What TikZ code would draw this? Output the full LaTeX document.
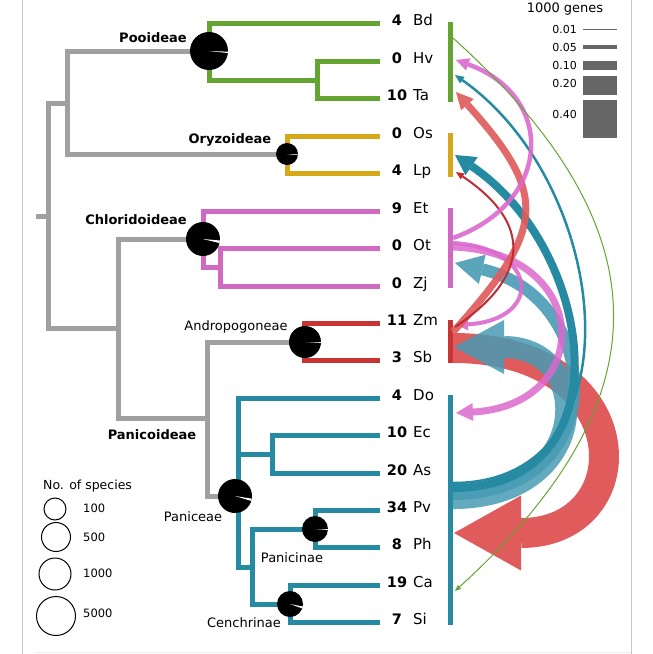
\documentclass[tikz,border=0pt]{standalone}
\usepackage{fontspec}
\setmainfont{DejaVu Sans}
\usetikzlibrary{arrows.meta,calc}
\definecolor{cgreen}{RGB}{100,165,50}
\definecolor{cgold}{RGB}{214,168,24}
\definecolor{cpink}{RGB}{208,105,192}
\definecolor{cred}{RGB}{200,52,52}
\definecolor{cteal}{RGB}{38,138,162}
\definecolor{ctgrey}{RGB}{160,160,160}
\definecolor{carcred}{RGB}{224,92,92}
\definecolor{carcpink}{RGB}{218,105,205}
\definecolor{cltteal}{RGB}{72,155,180}
\definecolor{cdkred}{RGB}{190,45,55}
\definecolor{clegbar}{RGB}{102,102,102}
\newcommand{\pieglyph}[4]{%
  \fill[black] (#1) circle[radius=#2pt];
  \fill[white] (#1) -- ++(-#3:#2pt) arc[start angle=-#3, end angle=-#4, radius=#2pt] -- cycle;}
\begin{document}
\begin{tikzpicture}[x=1pt,y=-1pt,
  tree/.style={line width=5pt, ctgrey},
  br/.style={line width=5pt},
  cbar/.style={line width=5pt},
  numlab/.style={anchor=base, font=\fontsize{14.5}{17}\selectfont\bfseries, inner sep=0pt},
  namelab/.style={anchor=base west, font=\fontsize{15}{18}\selectfont, inner sep=0pt},
  cladelab/.style={font=\fontsize{13}{15}\selectfont\bfseries, inner sep=0pt},
  sublab/.style={font=\fontsize{13}{15}\selectfont, inner sep=0pt},
  leglab/.style={font=\fontsize{11}{13}\selectfont, inner sep=0pt},
  arc/.style={line cap=butt}]
\useasboundingbox (0,0) rectangle (653,654);
% frame
\draw[line width=1pt, black!22] (22.5,0) -- (22.5,654);
\draw[line width=1pt, black!22] (631.5,0) -- (631.5,654);
\draw[line width=1pt, black!8] (35,652.5) -- (631,652.5);

% grey backbone
\draw[tree] (36,216) -- (48,216);
\draw[tree] (67,103) -- (48,103) -- (48,328) -- (118,328);
\draw[tree] (209,51) -- (67,51) -- (67,154) -- (287,154);
\draw[tree] (203,239) -- (118,239) -- (118,418) -- (207,418);
\draw[tree] (305,342) -- (207,342) -- (207,496) -- (235,496);

% clades
\draw[br,cgreen] (380,23) -- (209,23) -- (209,80) -- (317,80);
\draw[br,cgreen] (380,61) -- (317,61) -- (317,98) -- (380,98);
\draw[br,cgold] (380,136) -- (287,136) -- (287,173) -- (380,173);
\draw[br,cpink] (380,211) -- (203,211) -- (203,267) -- (220,267);
\draw[br,cpink] (380,248) -- (220,248) -- (220,286) -- (380,286);
\draw[br,cred] (380,323) -- (304,323) -- (304,360) -- (380,360);
\draw[br,cteal] (380,398) -- (238,398) -- (238,567) -- (252,567);
\draw[br,cteal] (238,454) -- (272,454);
\draw[br,cteal] (380,435) -- (272,435) -- (272,473) -- (380,473);
\draw[br,cteal] (315,529) -- (252,529) -- (252,604) -- (290,604);
\draw[br,cteal] (380,510) -- (315,510) -- (315,547) -- (380,547);
\draw[br,cteal] (380,585) -- (290,585) -- (290,622) -- (380,622);

% pies
\coordinate (pPoo) at (209,51);
\coordinate (pOry) at (287,154);
\coordinate (pChl) at (203,239);
\coordinate (pAnd) at (305,342);
\coordinate (pPan) at (235,496);
\coordinate (pPnc) at (315,529);
\coordinate (pCen) at (290,604);
\pieglyph{pPoo}{19}{2}{6}
\pieglyph{pOry}{11}{2}{6}
\pieglyph{pChl}{17}{5}{14}
\pieglyph{pAnd}{16}{0}{3}
\pieglyph{pPan}{17}{9}{17}
\pieglyph{pPnc}{13}{1}{4}
\pieglyph{pCen}{13}{11}{20}

% clade labels
\node[cladelab] (tPoo) at (153,38) {Pooideae};
\node[cladelab] (tOry) at (230,140) {Oryzoideae};
\node[cladelab] (tChl) at (136,220) {Chloridoideae};
\node[cladelab] (tPnc) at (152,435) {Panicoideae};
\node[sublab] (tAnd) at (236,327) {Andropogoneae};
\node[sublab] (tPan) at (193,517) {Paniceae};
\node[sublab] (tPni) at (292,558) {Panicinae};
\node[sublab] (tCen) at (244,623) {Cenchrinae};

% leaf labels
\foreach \nm/\num/\yy in {Bd/4/23,Hv/0/61,Ta/10/98,Os/0/136,Lp/4/173,Et/9/211,Ot/0/248,Zj/0/286,Zm/11/323,Sb/3/360,Do/4/398,Ec/10/435,As/20/473,Pv/34/510,Ph/8/547,Ca/19/585,Si/7/622}{
  \node[numlab] (n\nm) at (397,\yy+2) {\num};
  \node[namelab] (l\nm) at (413,\yy+2) {\nm};
}

% clade bars
\draw[cbar,cgreen] (450,22) -- (450,102);
\draw[cbar,cgold] (450,133) -- (450,177);
\draw[cbar,cpink] (450,208) -- (450,288);
\draw[cbar,cred] (450,320) -- (450,363);
\draw[cbar,cteal] (450,395) -- (450,625);

% arc end points
\coordinate (sSb) at (453,348);  \coordinate (tPh) at (454,533);
\coordinate (sPv1) at (453,498); \coordinate (tSb) at (454,347);
\coordinate (sPv2) at (453,494); \coordinate (tZj) at (455,263);
\coordinate (sPv3) at (453,488); \coordinate (tLp) at (455,155);
\coordinate (sPv4) at (453,483); \coordinate (tTa) at (455,75);
\coordinate (sOt3) at (453,247); \coordinate (tDo) at (456,413);
\coordinate (sOt2) at (453,243); \coordinate (tZm) at (456,325);
\coordinate (sZm1) at (453,332); \coordinate (tTa2) at (456,92);
\coordinate (sZm2) at (455,327); \coordinate (tLp2) at (456,172);
\coordinate (sOt1) at (453,238); \coordinate (tHv) at (456,60);
\coordinate (sBd) at (453,38);   \coordinate (tCa) at (455,591);

% arcs
\draw[arc, line width=30pt, carcred, -{Triangle[width=75pt,length=67pt,line width=0pt]}]
  (sSb) .. controls (640,348) and (642,533) .. (tPh);
\draw[arc, line width=22pt, cltteal, opacity=.85, -{Triangle[width=54pt,length=50pt,line width=0pt]}]
  (sPv1) .. controls (593,498) and (595,347) .. (tSb);
\draw[arc, line width=12pt, cltteal, opacity=.9, -{Triangle[width=30pt,length=28pt,line width=0pt]}]
  (sPv2) .. controls (613,494) and (606,298) .. (tZj);
\draw[arc, line width=8pt, cteal, -{Triangle[width=22pt,length=20pt,line width=0pt]}]
  (sPv3) .. controls (628,488) and (596,250) .. (tLp);
\draw[arc, line width=2.5pt, cteal, -{Triangle[width=8pt,length=9pt,line width=0pt]}]
  (sPv4) .. controls (643,483) and (612,185) .. (tTa);
\draw[arc, line width=7pt, carcpink, opacity=.85, -{Triangle[width=18pt,length=17pt,line width=0pt]}]
  (sOt3) .. controls (593,252) and (596,405) .. (tDo);
\draw[arc, line width=4pt, carcpink, opacity=.9, -{Triangle[width=12pt,length=12pt,line width=0pt]}]
  (sOt2) .. controls (540,248) and (543,320) .. (tZm);
\draw[arc, line width=7pt, carcred, opacity=.92, -{Triangle[width=17pt,length=17pt,line width=0pt]}]
  (sZm1) .. controls (546,229) and (549,195) .. (tTa2);
\draw[arc, line width=2pt, cdkred, -{Triangle[width=7pt,length=8pt,line width=0pt]}]
  (sZm2) .. controls (531,276) and (532,223) .. (tLp2);
\draw[arc, line width=4.5pt, carcpink, opacity=.9, -{Triangle[width=13pt,length=13pt,line width=0pt]}]
  (sOt1) .. controls (553,202) and (556,96) .. (tHv);
\draw[arc, line width=1pt, cgreen, -{Triangle[width=5pt,length=6pt,line width=0pt]}]
  (sBd) .. controls (666,230) and (666,399) .. (tCa);

% gene legend
\node[font=\fontsize{13}{15}\selectfont, inner sep=0pt] (lgT) at (565,9) {1000 genes};
\node[leglab, anchor=east] (lg1) at (577,29) {0.01};
\node[leglab, anchor=east] (lg2) at (577,47) {0.05};
\node[leglab, anchor=east] (lg3) at (577,65) {0.10};
\node[leglab, anchor=east] (lg4) at (577,83) {0.20};
\node[leglab, anchor=east] (lg5) at (577,114) {0.40};
\fill[clegbar] (583,28.5) rectangle (617,29.5);
\fill[clegbar] (583,45) rectangle (617,49);
\fill[clegbar] (583,61) rectangle (617,70);
\fill[clegbar] (583,76) rectangle (617,95);
\fill[clegbar] (583,100) rectangle (617,138);

% species legend
\node[font=\fontsize{12.5}{15}\selectfont, anchor=west, inner sep=0pt] (spT) at (43,486) {No. of species};
\coordinate (sp1) at (55,509);
\coordinate (sp2) at (56,537);
\coordinate (sp3) at (55,574);
\coordinate (sp4) at (56,616);
\draw[line width=1pt] (sp1) circle[radius=11pt];
\draw[line width=1pt] (sp2) circle[radius=14.5pt];
\draw[line width=1pt] (sp3) circle[radius=16pt];
\draw[line width=1pt] (sp4) circle[radius=19.5pt];
\node[font=\fontsize{11.5}{14}\selectfont, anchor=west, inner sep=0pt] (spl1) at (83,508) {100};
\node[font=\fontsize{11.5}{14}\selectfont, anchor=west, inner sep=0pt] (spl2) at (83,537) {500};
\node[font=\fontsize{11.5}{14}\selectfont, anchor=west, inner sep=0pt] (spl3) at (83,573) {1000};
\node[font=\fontsize{11.5}{14}\selectfont, anchor=west, inner sep=0pt] (spl4) at (83,613) {5000};
\end{tikzpicture}
\end{document}
